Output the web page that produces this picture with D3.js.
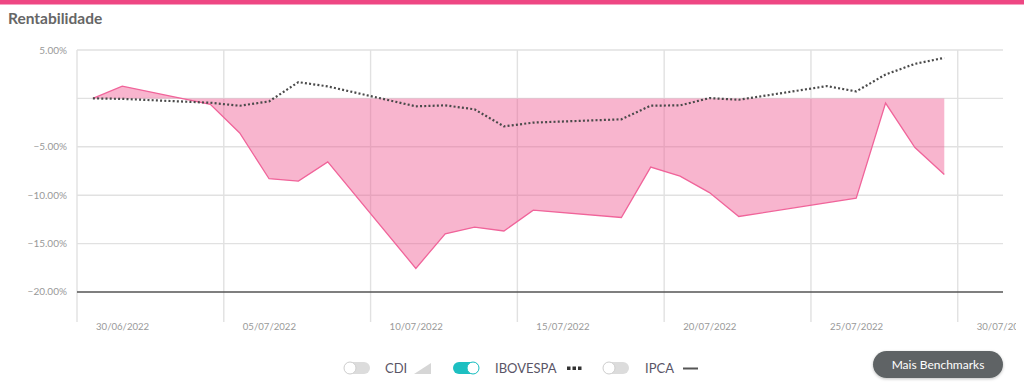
<!DOCTYPE html>
<html>
<head>
<meta charset="utf-8">
<script src="https://cdn.jsdelivr.net/npm/d3@7"></script>
<style>
  html, body { margin: 0; padding: 0; background: #fff; }
  body { font-family: Lato, "Open Sans", sans-serif; }
  svg { display: block; }
</style>
</head>
<body>
<div id="chart"></div>
<script>
// dates of the series (business days)
var dates = ["30/06/2022", "01/07/2022", "04/07/2022", "05/07/2022", "06/07/2022", "07/07/2022",
  "08/07/2022", "11/07/2022", "12/07/2022", "13/07/2022", "14/07/2022", "15/07/2022",
  "18/07/2022", "19/07/2022", "20/07/2022", "21/07/2022", "22/07/2022", "25/07/2022",
  "26/07/2022", "27/07/2022", "28/07/2022", "29/07/2022"];

// fund return (%), null = no value that day
var fundo = [0, 1.27, -0.62, -3.57, -8.3, -8.55, -6.56, -17.56, -14.0, -13.3, -13.7, -11.55,
  -12.3, -7.1, -8.04, -9.73, -12.2, null, -10.3, -0.48, -5.08, -7.87];

// IBOVESPA benchmark (%)
var ibovespa = [0, -0.05, -0.45, -0.76, -0.31, 1.68, 1.24, -0.82, -0.72, -1.13, -2.89, -2.5,
  -2.16, -0.75, -0.72, 0.03, -0.14, 1.27, 0.72, 2.47, 3.57, 4.19];

var yTicks = [5, -5, -10, -15, -20];
var yGrid = [5, 0, -5, -10, -15];
var xTicks = ["30/06/2022", "05/07/2022", "10/07/2022", "15/07/2022", "20/07/2022", "25/07/2022", "30/07/2022"];

var legendItems = ["CDI", "IBOVESPA", "IPCA"];
var legendOn = [false, true, false];

var svgWidth = 1024;
var svgHeight = 389;

var plot = { left: 77, right: 1003, top: 50, bottom: 322 };

var parse = d3.utcParse("%d/%m/%Y");
var fmt = d3.utcFormat("%d/%m/%Y");

var svg = d3.select("#chart")
  .append("svg")
  .attr("width", svgWidth)
  .attr("height", svgHeight);

var defs = svg.append("defs");
var shadow = defs.append("filter").attr("id", "shadow")
  .attr("x", "-20%").attr("y", "-40%").attr("width", "140%").attr("height", "180%");
shadow.append("feDropShadow").attr("dx", 0).attr("dy", 1).attr("stdDeviation", 1.5)
  .attr("flood-color", "#000").attr("flood-opacity", 0.25);

// the chart container cuts the labels at its right side
defs.append("clipPath").attr("id", "box")
  .append("rect").attr("x", 0).attr("y", 0).attr("width", 1016).attr("height", svgHeight);

// top pink bar
svg.append("rect")
  .attr("x", 0).attr("y", 0)
  .attr("width", svgWidth).attr("height", 4.5)
  .attr("fill", "#ee4783");

// title
svg.append("text")
  .attr("x", 8).attr("y", 24)
  .style("font-size", "15.5px")
  .style("font-weight", "700")
  .style("fill", "#666")
  .text("Rentabilidade");

// scales (points are closing values, placed at 13h of each day)
var x = d3.scaleUtc()
  .domain([parse("30/06/2022"), d3.utcHour.offset(parse("31/07/2022"), 13.7)])
  .range([plot.left, plot.right]);

var y = d3.scaleLinear()
  .domain([-23.1, 5])
  .range([plot.bottom, plot.top]);

var pointDate = function(s) { return d3.utcHour.offset(parse(s), 13.1); };

var gridGroup = svg.append("g");

// vertical grid
gridGroup.selectAll(".vgrid")
  .data(xTicks)
  .enter()
  .append("line")
  .attr("x1", d => x(parse(d)))
  .attr("x2", d => x(parse(d)))
  .attr("y1", plot.top)
  .attr("y2", plot.bottom)
  .attr("stroke", "#e1e1e1")
  .attr("stroke-width", 1.4);

// horizontal grid
gridGroup.selectAll(".hgrid")
  .data(yGrid)
  .enter()
  .append("line")
  .attr("x1", plot.left)
  .attr("x2", plot.right)
  .attr("y1", d => y(d))
  .attr("y2", d => y(d))
  .attr("stroke", "#e1e1e1")
  .attr("stroke-width", 1.4);

// dark base line at -20%
svg.append("line")
  .attr("x1", plot.left).attr("x2", plot.right)
  .attr("y1", y(-20)).attr("y2", y(-20))
  .attr("stroke", "#555")
  .attr("stroke-width", 1.5);

// y labels
svg.selectAll(".ylab")
  .data(yTicks)
  .enter()
  .append("text")
  .attr("x", 67)
  .attr("y", d => y(d))
  .attr("dy", "0.35em")
  .style("text-anchor", "end")
  .style("font-size", "10px")
  .style("fill", "#999")
  .text(d => d3.format(".2f")(d) + "%");

// x labels
svg.append("g")
  .attr("clip-path", "url(#box)")
  .selectAll(".xlab")
  .data(xTicks)
  .enter()
  .append("text")
  .attr("x", d => x(parse(d)) + 19)
  .attr("y", 327)
  .attr("dy", "0.35em")
  .style("font-size", "9.6px")
  .style("fill", "#999")
  .text(d => fmt(parse(d)));

// fund area
var fundData = dates.map((d, i) => ({ date: pointDate(d), v: fundo[i] }))
  .filter(d => d.v !== null);

var area = d3.area()
  .x(d => x(d.date))
  .y0(y(0))
  .y1(d => y(d.v));

svg.append("path")
  .datum(fundData)
  .attr("d", area)
  .attr("fill", "#ef5a92")
  .attr("fill-opacity", 0.45);

svg.append("path")
  .datum(fundData)
  .attr("d", d3.line().x(d => x(d.date)).y(d => y(d.v)))
  .attr("fill", "none")
  .attr("stroke", "#f0649a")
  .attr("stroke-width", 1.3);

// ibovespa dotted line
var ibovData = dates.map((d, i) => ({ date: pointDate(d), v: ibovespa[i] }));

svg.append("path")
  .datum(ibovData)
  .attr("d", d3.line().x(d => x(d.date)).y(d => y(d.v)))
  .attr("fill", "none")
  .attr("stroke", "#4a4a4a")
  .attr("stroke-width", 2.2)
  .attr("stroke-dasharray", "2,2.2");

// legend
var legendX = [344, 453, 603];
var labelX = [385, 495, 645];
var legendY = 368;

var legend = svg.append("g");

legendItems.forEach(function(name, i) {
  var on = legendOn[i];
  var g = legend.append("g");
  g.append("rect")
    .attr("x", legendX[i]).attr("y", legendY - 6)
    .attr("width", 26).attr("height", 12)
    .attr("rx", 6)
    .attr("fill", on ? "#1dbfc1" : "#dcdcdc");
  g.append("circle")
    .attr("cx", on ? legendX[i] + 20 : legendX[i] + 6)
    .attr("cy", legendY)
    .attr("r", 6)
    .attr("fill", "#fff")
    .attr("stroke", on ? "#1dbfc1" : "#cfcfcf")
    .attr("stroke-width", 1);
  g.append("text")
    .attr("x", labelX[i]).attr("y", legendY)
    .attr("dy", "0.35em")
    .style("font-size", "13px")
    .style("fill", "#5a5566")
    .text(name);
});

// legend symbols
legend.append("path")
  .attr("d", "M414,374 L431,374 L431,363 Z")
  .attr("fill", "#d6d6d6");

legend.selectAll(".dot")
  .data([0, 1, 2])
  .enter()
  .append("rect")
  .attr("x", d => 567 + d * 5.5)
  .attr("y", legendY - 1.5)
  .attr("width", 3.5)
  .attr("height", 3.5)
  .attr("fill", "#333");

legend.append("line")
  .attr("x1", 683).attr("x2", 698)
  .attr("y1", legendY + 0.5).attr("y2", legendY + 0.5)
  .attr("stroke", "#555")
  .attr("stroke-width", 2);

// button
var btn = svg.append("g");
btn.append("rect")
  .attr("x", 873).attr("y", 351)
  .attr("width", 130).attr("height", 27)
  .attr("rx", 13.5)
  .attr("fill", "#5e6465")
  .attr("filter", "url(#shadow)");
btn.append("text")
  .attr("x", 938).attr("y", 364.5)
  .attr("dy", "0.35em")
  .style("text-anchor", "middle")
  .style("font-size", "12px")
  .style("fill", "#fff")
  .text("Mais Benchmarks");
</script>
</body>
</html>
